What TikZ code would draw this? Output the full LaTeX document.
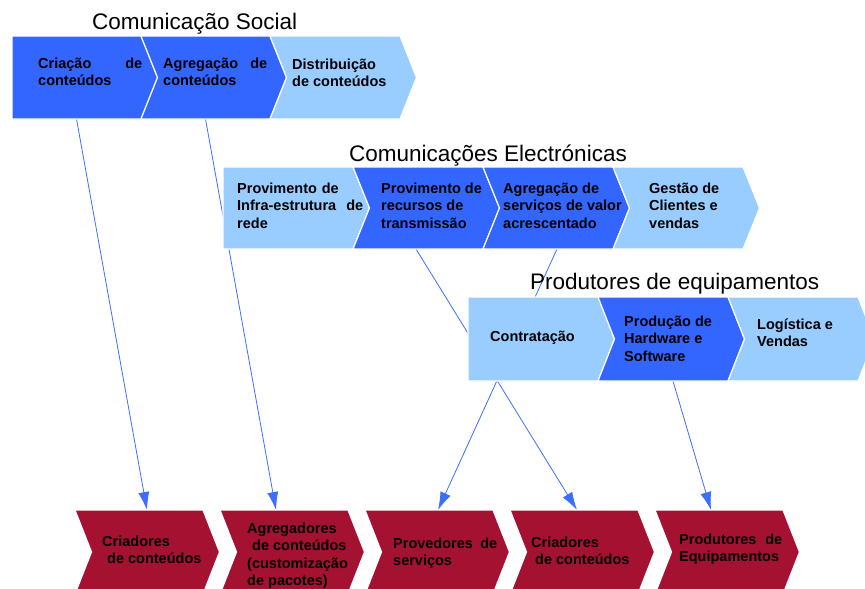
\documentclass[tikz,border=0pt]{standalone}
\usepackage{fontspec}
\setmainfont{Liberation Sans}
\usetikzlibrary{arrows.meta,positioning,calc,backgrounds}
\definecolor{segdark}{RGB}{51,102,255}
\definecolor{seglight}{RGB}{153,204,255}
\definecolor{segred}{RGB}{165,17,49}
\definecolor{linkblue}{RGB}{60,110,255}

\begin{document}
\begin{tikzpicture}[x=1pt, y=-1pt,
    seg/.style={minimum width=130pt, minimum height=83pt, inner sep=0pt, outer sep=0pt, anchor=north west},
    lbl/.style={inner sep=0pt, anchor=north west, align=left, font=\bfseries\fontsize{14.5}{17.5}\selectfont},
    ttl/.style={inner sep=0pt, anchor=base west, font=\fontsize{22.5}{27}\selectfont},
    link/.style={draw=linkblue, line width=0.8pt, -{Latex[length=18pt,width=11pt]}}]
    \useasboundingbox (0,0) rectangle (865,589);
    \clip (0,0) rectangle (865,589);

    % titles
    \node[ttl] (comsoc) at (92,29) {Comunicação Social};
    \node[ttl] (comel) at (349,161) {Comunicações Electrónicas};
    \node[ttl] (prodeq) at (530,289) {Produtores de equipamentos};

    % chains
    \node[seg, minimum width=129pt] (cria) at (12,36) {};
    \node[seg, minimum width=129pt] (agre) at (141,36) {};
    \node[seg, minimum width=130pt] (dist) at (270,36) {};
    \node[seg, minimum height=82pt] (prov) at (223,167) {};
    \node[seg, minimum height=82pt] (rec) at (353,167) {};
    \node[seg, minimum height=82pt] (serv) at (483,167) {};
    \node[seg, minimum height=82pt] (gest) at (613,167) {};
    \node[seg, minimum height=84pt] (contr) at (468,297) {};
    \node[seg, minimum height=84pt] (prodhw) at (598,297) {};
    \node[seg, minimum height=84pt] (logis) at (728,297) {};
    \node[seg, minimum width=128pt, minimum height=84pt] (criad1) at (75,510) {};
    \node[seg, minimum width=128pt, minimum height=84pt] (agreg) at (220,510) {};
    \node[seg, minimum width=128pt, minimum height=84pt] (proved) at (365,510) {};
    \node[seg, minimum width=128pt, minimum height=84pt] (criad2) at (510,510) {};
    \node[seg, minimum width=128pt, minimum height=84pt] (produt) at (655,510) {};

    \foreach \n/\c/\k in {cria/segdark/0, agre/segdark/16.5, dist/seglight/16.5,
        prov/seglight/0, rec/segdark/16.5, serv/segdark/16.5, gest/seglight/16.5,
        contr/seglight/0, prodhw/segdark/16.5, logis/seglight/16.5,
        criad1/segred/16.5, agreg/segred/16.5, proved/segred/16.5, criad2/segred/16.5, produt/segred/16.5}
        \fill[\c, draw=white, line width=1.2pt] (\n.north west) -- (\n.north east) -- ([xshift=16.5pt]\n.east)
            -- (\n.south east) -- (\n.south west) -- ([xshift=\k pt]\n.west) -- cycle;

    % labels
    \node[lbl, text width=104pt] (criat) at (38,57) {\rule{0pt}{11pt}Criação\hfill de\\conteúdos};
    \node[lbl, text width=104pt] (agret) at (163,57) {\rule{0pt}{11pt}Agregação\hfill de\\conteúdos};
    \node[lbl] (distt) at (292,58) {\rule{0pt}{11pt}Distribuição\\de conteúdos};
    \node[lbl, text width=126pt] (provt) at (237,182) {\rule{0pt}{11pt}Provimento de\\Infra-estrutura\hfill de\\rede};
    \node[lbl] (rect) at (381,182) {\rule{0pt}{11pt}Provimento de\\recursos de\\transmissão};
    \node[lbl] (servt) at (503,182) {\rule{0pt}{11pt}Agregação de\\serviços de valor\\acrescentado};
    \node[lbl] (gestt) at (649,182) {\rule{0pt}{11pt}Gestão de\\Clientes e\\vendas};
    \node[lbl] (contrt) at (490,330) {\rule{0pt}{11pt}Contratação};
    \node[lbl] (prodhwt) at (624,315) {\rule{0pt}{11pt}Produção de\\Hardware e\\Software};
    \node[lbl] (logist) at (757,318) {\rule{0pt}{11pt}Logística e\\Vendas};
    \node[lbl] (criad1t) at (102,535) {\rule{0pt}{11pt}Criadores\\\hspace*{5pt}de conteúdos};
    \node[lbl] (agregt) at (247,522) {\rule{0pt}{11pt}Agregadores\\\hspace*{5pt}de conteúdos\\(customização\\de pacotes)};
    \node[lbl, text width=104pt] (provedt) at (393,537) {\rule{0pt}{11pt}Provedores\hfill de\\serviços};
    \node[lbl] (criad2t) at (531,536) {\rule{0pt}{11pt}Criadores\\\hspace*{4pt}de conteúdos};
    \node[lbl, text width=103pt] (produtt) at (679,533) {\rule{0pt}{11pt}Produtores\hfill de\\Equipamentos};

    % links behind the chains
    \begin{pgfonlayer}{background}
        \draw[link] (cria.south) -- ([xshift=8pt]criad1.north);
        \draw[link] (agre.south) -- ([xshift=-8pt]agreg.north);
        \draw[link] ([xshift=-2pt]rec.south) -- ([xshift=3pt]criad2.north);
        \draw[link] ([xshift=9pt]serv.south) -- ([xshift=9pt]proved.north);
        \draw[link] ([xshift=10pt]prodhw.south) -- ([xshift=-8pt]produt.north);
    \end{pgfonlayer}
\end{tikzpicture}
\end{document}
